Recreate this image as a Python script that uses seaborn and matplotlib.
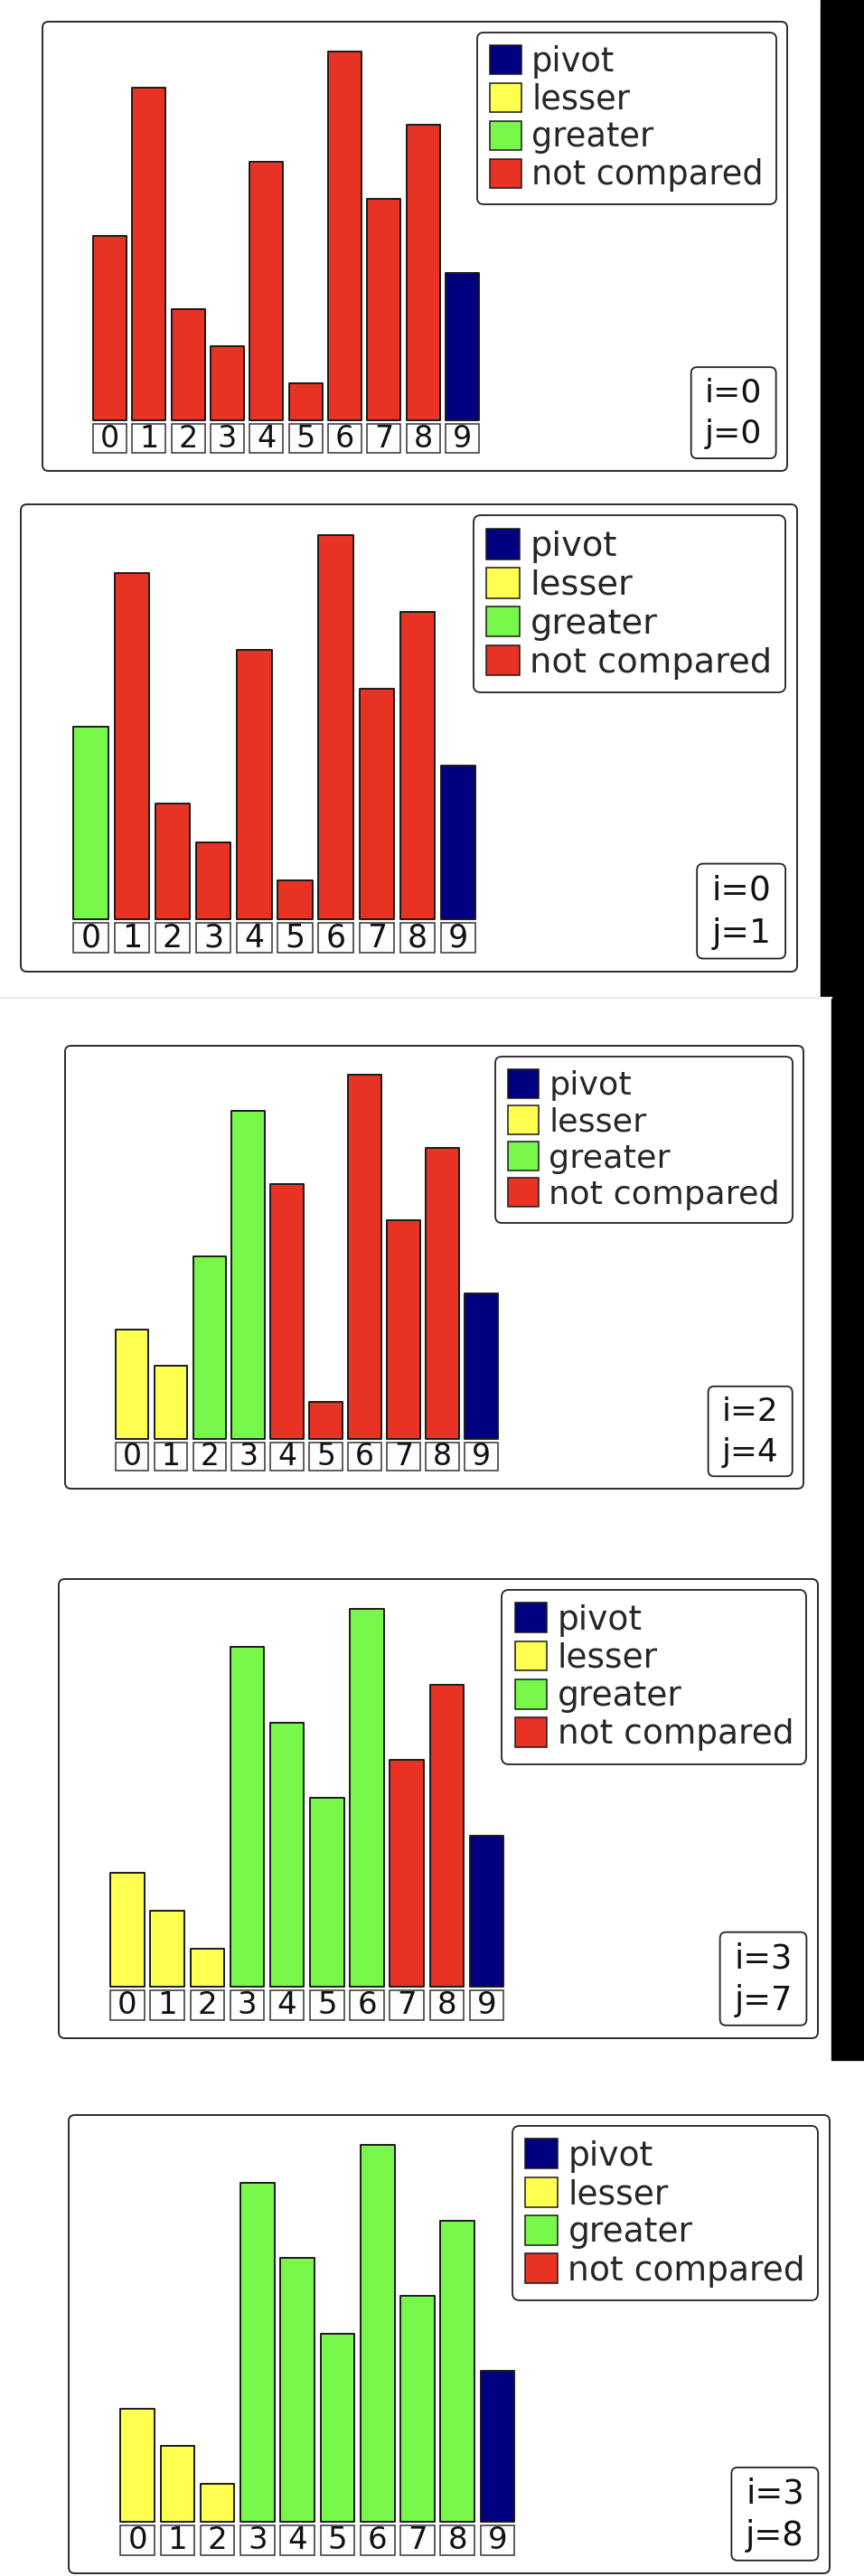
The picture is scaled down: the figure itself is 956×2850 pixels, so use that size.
import pandas as pd
import matplotlib
matplotlib.use("Agg")
import matplotlib.pyplot as plt
from matplotlib.patches import FancyBboxPatch, Patch, Rectangle
import seaborn as sns

# quicksort partition snapshots (Lomuto), pivot = last element
positions = list(range(10))
values_start = [5, 9, 3, 2, 7, 1, 10, 6, 8, 4]
values_mid = [3, 2, 5, 9, 7, 1, 10, 6, 8, 4]
values_late = [3, 2, 1, 9, 7, 5, 10, 6, 8, 4]

state_names = ["pivot", "lesser", "greater", "not compared"]
state_colors = ["#000080", "#ffff4f", "#76f74a", "#e83223"]

states_1 = ["not compared"] * 9 + ["pivot"]
states_2 = ["greater"] + ["not compared"] * 8 + ["pivot"]
states_3 = ["lesser"] * 2 + ["greater"] * 2 + ["not compared"] * 5 + ["pivot"]
states_4 = ["lesser"] * 3 + ["greater"] * 4 + ["not compared"] * 2 + ["pivot"]
states_5 = ["lesser"] * 3 + ["greater"] * 6 + ["pivot"]

step_i = [0, 0, 2, 3, 3]
step_j = [0, 1, 4, 7, 8]

panel_values = [values_start, values_start, values_mid, values_late, values_late]
panel_states = [states_1, states_2, states_3, states_4, states_5]

# panel frames in pixels: left, top, right, bottom
frames = [(47, 24, 871, 521), (23, 558, 882, 1075), (72, 1157, 889, 1647),
          (65, 1747, 905, 2255), (76, 2340, 918, 2847)]

W, H = 956, 2850
EDGE = "#1a1a1a"

sns.set_style("white")
plt.rcParams["font.family"] = ["DejaVu Sans"]

fig = plt.figure(figsize=(W / 100, H / 100), dpi=100)
fig.patch.set_facecolor("white")

palette = dict(zip(state_names, state_colors))

for k in range(5):
    x0, y0, x1, y1 = frames[k]
    w, h = x1 - x0, y1 - y0
    s = w / 824
    ax = fig.add_axes([x0 / W, 1 - y1 / H, w / W, h / H])
    ax.patch.set_alpha(0)

    frame = FancyBboxPatch((0, 0), 1, 1, boxstyle="round,pad=0,rounding_size=0.008",
                           mutation_aspect=w / h, transform=ax.transAxes,
                           facecolor="white", edgecolor="#2a2a2a", linewidth=1.4,
                           clip_on=False, zorder=0)
    ax.add_patch(frame)

    df = pd.DataFrame({"pos": positions, "value": panel_values[k], "state": panel_states[k]})
    sns.barplot(data=df, x="pos", y="value", hue="state", hue_order=state_names,
                palette=palette, dodge=False, width=0.85, saturation=1,
                edgecolor=EDGE, linewidth=1.4, legend=False, ax=ax, zorder=2)
    for bar in ax.patches[1:]:
        bar.set_joinstyle("round")

    # index boxes under the bars
    ax.bar(positions, 0.79, bottom=-0.89, width=0.85, color="#fdfdfd",
           edgecolor="#333333", linewidth=1.1, zorder=2)
    for p in positions:
        ax.text(p, -0.50, str(p), ha="center", va="center", fontsize=24 * s,
                color="#111111", zorder=3)

    ax.set_xlim(-1.72, 17.30)
    ax.set_ylim(-1.376, 10.80)
    ax.set_axis_off()

    handles = [Patch(facecolor=c, edgecolor=EDGE, linewidth=1.1, label=n)
               for n, c in zip(state_names, state_colors)]
    leg = ax.legend(handles=handles, loc="upper right", bbox_to_anchor=(0.985, 0.976),
                    borderaxespad=0, fontsize=26.5 * s, frameon=True, fancybox=True,
                    framealpha=1, edgecolor="#222222", handlelength=0.95,
                    handleheight=0.97, labelspacing=0.13, handletextpad=0.3,
                    borderpad=0.38)
    leg.get_frame().set_linewidth(1.3)

    # i / j counter box
    ij = FancyBboxPatch((0.871, 0.028), 0.114, 0.203,
                        boxstyle="round,pad=0,rounding_size=0.008",
                        mutation_aspect=w / h, transform=ax.transAxes,
                        facecolor="white", edgecolor="#222222", linewidth=1.3,
                        zorder=3)
    ax.add_patch(ij)
    ax.text(0.928, 0.153, f"i={step_i[k]}", transform=ax.transAxes, ha="center",
            va="baseline", fontsize=26 * s, color="#111111", zorder=4)
    ax.text(0.928, 0.062, f"j={step_j[k]}", transform=ax.transAxes, ha="center",
            va="baseline", fontsize=26 * s, color="#111111", zorder=4)

# dark strip along the right edge of the screenshot and the seam line
fig.add_artist(Rectangle((908 / W, 1 - 1103 / H), 48 / W, 1103 / H,
                         transform=fig.transFigure, color="black"))
fig.add_artist(Rectangle((920 / W, 1 - 2279 / H), 36 / W, 1176 / H,
                         transform=fig.transFigure, color="black"))
fig.add_artist(Rectangle((0, 1 - 1104 / H), 920 / W, 1.5 / H,
                         transform=fig.transFigure, color="#eeeeee"))

fig.savefig("out.png", dpi=100, facecolor="white")
